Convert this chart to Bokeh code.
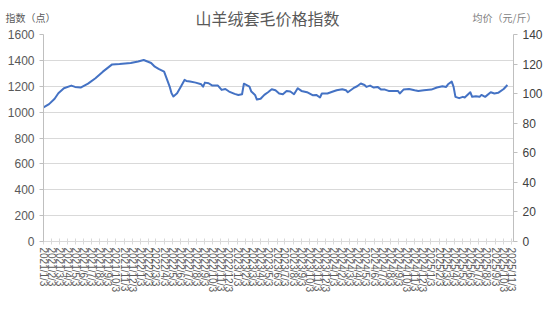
import pandas as pd
from bokeh.plotting import figure
from bokeh.layouts import column, row
from bokeh.models import Range1d, LinearAxis, FixedTicker, SingleIntervalTicker, Label
from bokeh.embed import file_html
from bokeh.resources import INLINE

# ---- data ----
start_date = "2021-01-03"
# weeks since start date of each observation
weeks = [0, 3, 6, 8, 11, 15, 17, 20, 24, 28, 32, 37, 41, 47, 51, 54, 58, 60, 62, 65,
         66, 68, 69, 70, 72, 74, 76, 77, 79, 82, 85, 86, 87, 89, 91, 94, 96, 98, 100, 103,
         105, 107, 108, 111, 112, 114, 115, 117, 119, 121, 123, 125, 127, 129, 131, 133, 135, 137, 139, 142,
         145, 147, 149, 150, 153, 156, 158, 161, 163, 164, 167, 169, 171, 173, 174, 176, 178, 180, 182, 184,
         186, 191, 192, 194, 197, 200, 202, 205, 209, 212, 215, 217, 218, 220, 221, 222, 224, 226, 227, 230,
         231, 233, 235, 236, 238, 241, 243, 245, 248, 250]
index_values = [1036, 1062, 1103, 1146, 1185, 1205, 1195, 1190, 1220, 1262, 1313, 1369, 1372, 1380, 1392, 1403, 1380, 1351, 1335, 1313,
                1274, 1197, 1146, 1121, 1146, 1197, 1249, 1241, 1236, 1228, 1215, 1197, 1228, 1223, 1205, 1205, 1172, 1179, 1159, 1141,
                1133, 1138, 1220, 1197, 1159, 1133, 1097, 1103, 1133, 1154, 1177, 1169, 1144, 1138, 1164, 1159, 1138, 1185, 1164, 1154,
                1131, 1133, 1113, 1144, 1144, 1159, 1169, 1177, 1169, 1154, 1185, 1200, 1221, 1210, 1195, 1205, 1190, 1195, 1174, 1174,
                1164, 1164, 1144, 1174, 1179, 1169, 1164, 1169, 1174, 1190, 1200, 1195, 1215, 1236, 1195, 1118, 1108, 1118, 1113, 1154,
                1118, 1123, 1118, 1133, 1118, 1154, 1144, 1149, 1179, 1210]
tick_dates = [d + pd.Timedelta(days=2) for d in pd.date_range("2021-01-01", periods=59, freq="MS")]
tick_labels = [f"{d.year}/{d.month}/{d.day}" for d in tick_dates]
title_text = "山羊绒套毛价格指数"
left_title = "指数（点）"
right_title = "均价（元/斤）"

start = pd.Timestamp(start_date)
x_days = [w * 7 for w in weeks]
tick_days = [int((d - start).days) for d in tick_dates]

grey = "#595959"

# ---- header strip with the titles ----
HEADER_H = 28
header = figure(width=550, height=HEADER_H, output_backend="svg", toolbar_location=None, title=None,
                x_range=Range1d(0, 550), y_range=Range1d(0, HEADER_H),
                min_border_left=0, min_border_right=0, min_border_top=0, min_border_bottom=0,
                x_axis_location=None, y_axis_location=None,
                background_fill_color="white", border_fill_color="white")
header.outline_line_color = None
header.grid.visible = False
header.add_layout(Label(x=267, y=HEADER_H - 17, text=title_text, text_align="center", text_baseline="middle",
                        text_font="Noto Sans CJK SC", text_font_size="16px", text_color=grey))
header.add_layout(Label(x=5, y=HEADER_H - 17, text=left_title, text_align="left", text_baseline="middle",
                        text_font="Noto Sans CJK SC", text_font_size="10px", text_color=grey))
header.add_layout(Label(x=472, y=HEADER_H - 17, text=right_title, text_align="left", text_baseline="middle",
                        text_font="Noto Sans CJK SC", text_font_size="10px", text_color="#7f7f7f"))

# ---- main chart ----
p = figure(width=550, height=310 - HEADER_H, output_backend="svg", toolbar_location=None, title=None,
           x_range=Range1d(0, 1773), y_range=Range1d(0, 1600),
           min_border_left=43, min_border_right=37, min_border_top=34 - HEADER_H, min_border_bottom=69,
           background_fill_color="white", border_fill_color="white")
p.outline_line_color = None
p.extra_y_ranges = {"price": Range1d(0, 140)}

p.line(x_days, index_values, line_color="#4472C4", line_width=2, line_join="round")

# x axis
xa = p.xaxis[0]
xa.ticker = FixedTicker(ticks=tick_days)
xa.major_label_overrides = {t: l for t, l in zip(tick_days, tick_labels)}
xa.major_label_orientation = "vertical"
xa.major_label_text_font = "Liberation Sans"
xa.major_label_text_font_size = "10px"
xa.major_label_text_color = grey
xa.major_label_standoff = 3
xa.axis_line_color = "#d9d9d9"
xa.major_tick_line_color = "#d9d9d9"
xa.major_tick_in = 3
xa.major_tick_out = 3
xa.minor_tick_line_color = None

# left axis
ya = p.yaxis[0]
ya.ticker = SingleIntervalTicker(interval=200, num_minor_ticks=0)
ya.major_label_text_font = "Liberation Sans"
ya.major_label_text_font_size = "12px"
ya.major_label_text_color = grey
ya.axis_line_color = "#bfbfbf"
ya.major_tick_line_color = "#bfbfbf"
ya.major_tick_in = 0
ya.major_tick_out = 4
ya.minor_tick_line_color = None

# right axis
ra = LinearAxis(y_range_name="price", ticker=SingleIntervalTicker(interval=20, num_minor_ticks=0))
ra.major_label_text_font = "Liberation Sans"
ra.major_label_text_font_size = "12px"
ra.major_label_text_color = "#404040"
ra.axis_line_color = "#bfbfbf"
ra.major_tick_line_color = "#bfbfbf"
ra.major_tick_in = 0
ra.major_tick_out = 4
ra.minor_tick_line_color = None
p.add_layout(ra, "right")

p.xgrid.visible = False
p.ygrid.grid_line_color = "#d9d9d9"

layout = column(row(header), p, spacing=0)
open("out.html", "w").write(file_html(layout, INLINE))
